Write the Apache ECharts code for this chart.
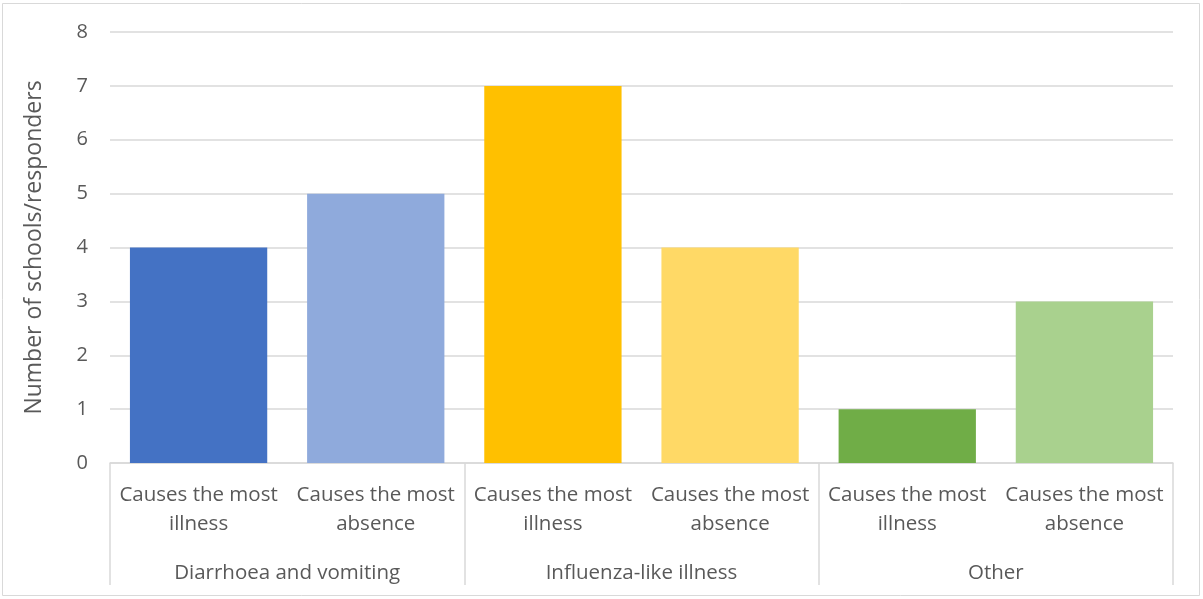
<!DOCTYPE html>
<html>
<head>
<meta charset="utf-8">
<script src="https://cdn.jsdelivr.net/npm/echarts@6/dist/echarts.min.js"></script>
<style>
  html, body { margin: 0; padding: 0; background: #ffffff; }
  #chart { width: 1203px; height: 599px; }
</style>
</head>
<body>
<div id="chart"></div>
<script>
// Sub-categories (inner axis level) and their parent groups (outer level)
const subCategories = [
  'Causes the most\nillness', 'Causes the most\nabsence',
  'Causes the most\nillness', 'Causes the most\nabsence',
  'Causes the most\nillness', 'Causes the most\nabsence'
];
const groups = ['Diarrhoea and vomiting', 'Influenza-like illness', 'Other'];
const counts = [4, 5, 7, 4, 1, 3];
const barColors = ['#4472C4', '#8FAADC', '#FFC000', '#FFD966', '#70AD47', '#A9D18E'];
const yTicks = [0, 1, 2, 3, 4, 5, 6, 7, 8];

const FONT = '"Open Sans", "Noto Sans", sans-serif';
const TEXT = '#595959';
const LINE = '#d9d9d9';

const chart = echarts.init(document.getElementById('chart'), null, { renderer: 'canvas' });

chart.setOption({
  animation: false,
  backgroundColor: '#ffffff',
  textStyle: { fontFamily: FONT },
  graphic: [{
    type: 'rect',
    shape: { x: 2.5, y: 3.5, width: 1197, height: 592 },
    style: { fill: 'none', stroke: LINE, lineWidth: 1 },
    silent: true
  }],
  grid: { left: 110, right: 30, top: 32, bottom: 136, containLabel: false },
  xAxis: [{
    type: 'category',
    data: subCategories,
    position: 'bottom',
    axisLine: { show: true, lineStyle: { color: LINE, width: 1.5 } },
    axisTick: { show: false },
    axisLabel: {
      interval: 0, margin: 18, color: TEXT, fontFamily: FONT,
      fontSize: 20.5, lineHeight: 29
    },
    splitLine: { show: false }
  }, {
    type: 'category',
    data: groups,
    position: 'bottom',
    axisLine: { show: false },
    axisTick: { show: true, length: 122, lineStyle: { color: LINE, width: 1.5 } },
    axisLabel: {
      interval: 0, margin: 96, color: TEXT, fontFamily: FONT,
      fontSize: 20.5, lineHeight: 29
    },
    splitLine: { show: false }
  }],
  yAxis: {
    type: 'value',
    min: yTicks[0],
    max: yTicks[yTicks.length - 1],
    interval: 1,
    name: 'Number of schools/responders',
    nameLocation: 'middle',
    nameGap: 64,
    nameTextStyle: { color: TEXT, fontFamily: FONT, fontSize: 23 },
    axisLine: { show: false },
    axisTick: { show: false },
    axisLabel: { margin: 22, color: TEXT, fontFamily: FONT, fontSize: 20 },
    splitLine: { show: true, lineStyle: { color: LINE, width: 1.5 } }
  },
  series: [{
    type: 'bar',
    xAxisIndex: 0,
    barWidth: '77.5%',
    data: counts.map((v, i) => ({ value: v, itemStyle: { color: barColors[i] } }))
  }]
});
</script>
</body>
</html>
